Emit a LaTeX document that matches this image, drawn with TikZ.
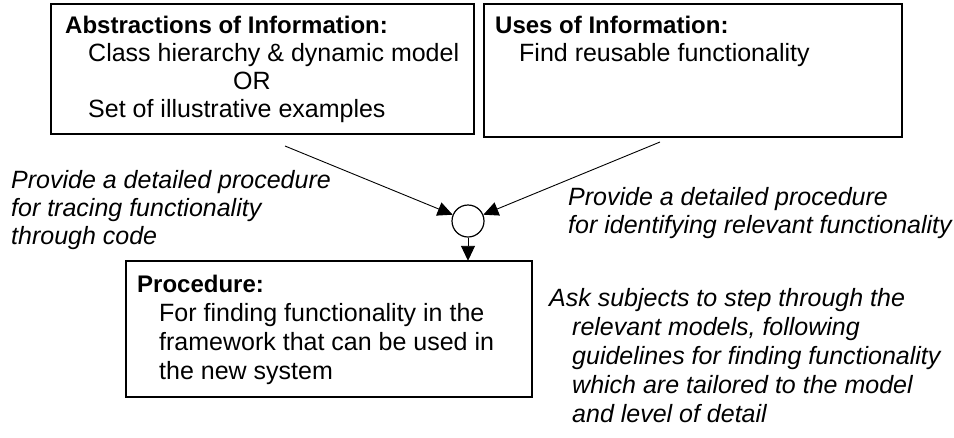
\documentclass[tikz,border=0pt]{standalone}
\usepackage{fontspec}
\setmainfont{Liberation Sans}
\usetikzlibrary{arrows.meta}
\begin{document}
\begin{tikzpicture}[x=1pt,y=-1pt,
  box/.style={draw, line width=1.5pt, inner sep=0pt},
  txt/.style={anchor=base west, inner sep=0pt, font=\fontsize{25}{30}\selectfont},
  head/.style={txt, font=\fontsize{24}{29}\selectfont\bfseries},
  lbl/.style={txt, font=\fontsize{25}{30}\selectfont\itshape},
  conn/.style={line width=0.9pt, -{Triangle[length=15pt,width=14pt]}}
]
\useasboundingbox (0,0) rectangle (954,437);
% boxes
\draw[box] (51,4) rectangle (474,134);
\draw[box] (484,4) rectangle (902,137);
\draw[box] (126,261) rectangle (532,397);
\node[inner sep=0pt, minimum width=406pt, minimum height=136pt] (b3) at (329,329) {};
% box 1 text
\node[head] (t1a) at (65,33) {Abstractions of Information:};
\node[txt] (t1b) at (88,61) {Class hierarchy \& dynamic model};
\node[txt] (t1c) at (233,89) {OR};
\node[txt] (t1d) at (88,117) {Set of illustrative examples};
% box 2 text
\node[head] (t2a) at (495,33) {Uses of Information:};
\node[txt] (t2b) at (519,61) {Find reusable functionality};
% box 3 text
\node[head] (t3a) at (137,292) {Procedure:};
\node[txt] (t3b) at (159,321) {For finding functionality in the};
\node[txt] (t3c) at (159,350) {framework that can be used in};
\node[txt] (t3d) at (159,379) {the new system};
% labels
\node[lbl] (l1a) at (11,188) {Provide a detailed procedure};
\node[lbl] (l1b) at (11,216) {for tracing functionality};
\node[lbl] (l1c) at (11,244) {through code};
\node[lbl] (l2a) at (568,205) {Provide a detailed procedure};
\node[lbl] (l2b) at (568,233) {for identifying relevant functionality};
\node[lbl] (l3a) at (549,306) {Ask subjects to step through the};
\node[lbl] (l3b) at (572,335) {relevant models, following};
\node[lbl] (l3c) at (572,364) {guidelines for finding functionality};
\node[lbl] (l3d) at (572,393) {which are tailored to the model};
\node[lbl] (l3e) at (572,422) {and level of detail};
% junction
\node[draw, circle, line width=1.2pt, minimum size=32pt, inner sep=0pt] (c) at (468,221) {};
\coordinate (s1) at (285,146);
\coordinate (s2) at (660,142);
\draw[conn] (s1) -- (c);
\draw[conn] (s2) -- (c);
\draw[conn] (c.south) -- (b3.north -| c.south);
\end{tikzpicture}
\end{document}
